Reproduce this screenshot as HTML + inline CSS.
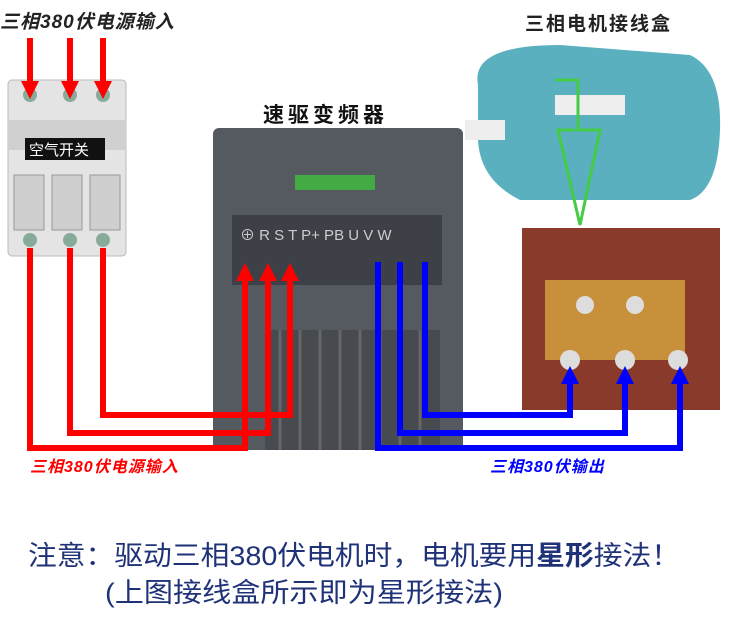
<!DOCTYPE html>
<html><head><meta charset="utf-8"><style>
body{margin:0;background:#fff;width:732px;height:638px;overflow:hidden}
svg{display:block}
.t{font-family:"Liberation Sans","Noto Sans CJK SC",sans-serif}
</style></head><body>
<svg width="732" height="638" viewBox="0 0 732 638" xmlns="http://www.w3.org/2000/svg">
<defs>
<marker id="ar" markerWidth="3" markerHeight="3" refX="1.5" refY="1.5" orient="auto"><path d="M0,0 L3,1.5 L0,3 z" fill="#f00"/></marker>
<marker id="ab" markerWidth="3" markerHeight="3" refX="1.5" refY="1.5" orient="auto"><path d="M0,0 L3,1.5 L0,3 z" fill="#00f"/></marker>
</defs>
<text class="t" x="0" y="28" font-size="19" font-weight="bold" font-style="italic" fill="#222" letter-spacing="1">三相380伏电源输入</text>
<text class="t" x="525" y="30" font-size="19" font-weight="bold" fill="#222" letter-spacing="2">三相电机接线盒</text>
<text class="t" x="263" y="122" font-size="21" font-weight="bold" fill="#111" letter-spacing="4">速驱变频器</text>
<rect x="8" y="80" width="118" height="176" rx="4" fill="#e4e4e4" stroke="#bbb"/>
<rect x="8" y="120" width="118" height="30" fill="#d0d0d0"/>
<rect x="25" y="138" width="80" height="22" fill="#111"/>
<text class="t" x="29" y="155" font-size="15" fill="#fff">空气开关</text>
<rect x="14" y="175" width="30" height="55" fill="#cfcfcf" stroke="#999"/>
<rect x="52" y="175" width="30" height="55" fill="#cfcfcf" stroke="#999"/>
<rect x="90" y="175" width="30" height="55" fill="#cfcfcf" stroke="#999"/>
<circle cx="30" cy="240" r="7" fill="#8a9"/><circle cx="70" cy="240" r="7" fill="#8a9"/><circle cx="103" cy="240" r="7" fill="#8a9"/>
<circle cx="30" cy="95" r="7" fill="#8a9"/><circle cx="70" cy="95" r="7" fill="#8a9"/><circle cx="103" cy="95" r="7" fill="#8a9"/>
<g stroke="#f00" stroke-width="6" marker-end="url(#ar)">
<line x1="30" y1="38" x2="30" y2="90"/><line x1="70" y1="38" x2="70" y2="90"/><line x1="103" y1="38" x2="103" y2="90"/>
</g>
<rect x="213" y="128" width="250" height="322" rx="6" fill="#555a60"/>
<rect x="295" y="175" width="80" height="15" fill="#4a4"/>
<rect x="232" y="215" width="210" height="70" fill="#3d4147"/>
<text class="t" x="240" y="240" font-size="15" fill="#ccc">⊕ R S T  P+ PB U V W</text>
<rect x="265" y="330" width="175" height="120" fill="#474b50"/>
<g stroke="#666" stroke-width="3"><line x1="280" y1="330" x2="280" y2="450"/><line x1="300" y1="330" x2="300" y2="450"/><line x1="320" y1="330" x2="320" y2="450"/><line x1="340" y1="330" x2="340" y2="450"/><line x1="360" y1="330" x2="360" y2="450"/><line x1="380" y1="330" x2="380" y2="450"/><line x1="400" y1="330" x2="400" y2="450"/><line x1="420" y1="330" x2="420" y2="450"/></g>
<path d="M478,85 Q470,45 560,45 L690,55 Q722,70 720,130 Q718,190 690,200 L520,200 Q480,180 478,140 Z" fill="#5bb0c0"/>
<rect x="465" y="120" width="40" height="20" fill="#eee"/>
<rect x="555" y="95" width="70" height="20" fill="#eee"/>
<path d="M555,80 L578,80 L578,130 L600,130 L580,225 L558,130 L575,130" fill="none" stroke="#4c4" stroke-width="3"/>
<rect x="522" y="228" width="198" height="182" fill="#8a3a2a"/>
<rect x="545" y="280" width="140" height="80" fill="#c8903a"/>
<circle cx="570" cy="360" r="10" fill="#ddd"/><circle cx="625" cy="360" r="10" fill="#ddd"/><circle cx="678" cy="360" r="10" fill="#ddd"/>
<circle cx="585" cy="305" r="9" fill="#ddd"/><circle cx="635" cy="305" r="9" fill="#ddd"/>
<g stroke="#f00" stroke-width="6" fill="none">
<polyline points="30,248 30,448 245,448 245,272" marker-end="url(#ar)"/>
<polyline points="70,248 70,433 268,433 268,272" marker-end="url(#ar)"/>
<polyline points="103,248 103,415 290,415 290,272" marker-end="url(#ar)"/>
</g>
<g stroke="#00f" stroke-width="6" fill="none">
<polyline points="378,262 378,448 680,448 680,375" marker-end="url(#ab)"/>
<polyline points="400,262 400,433 625,433 625,375" marker-end="url(#ab)"/>
<polyline points="425,262 425,415 570,415 570,375" marker-end="url(#ab)"/>
</g>
<text class="t" x="30" y="472" font-size="16" font-weight="bold" font-style="italic" fill="#f00" letter-spacing="1">三相380伏电源输入</text>
<text class="t" x="490" y="472" font-size="16" font-weight="bold" font-style="italic" fill="#00f" letter-spacing="1">三相380伏输出</text>
<text class="t" x="28" y="565" font-size="27" fill="#1f3278" textLength="652" lengthAdjust="spacingAndGlyphs">注意：驱动三相380伏电机时，电机要用<tspan font-weight="bold">星形</tspan>接法！</text>
<text class="t" x="105" y="602" font-size="27" fill="#1f3278" textLength="398" lengthAdjust="spacingAndGlyphs">(上图接线盒所示即为星形接法)</text>
</svg>
</body></html>
